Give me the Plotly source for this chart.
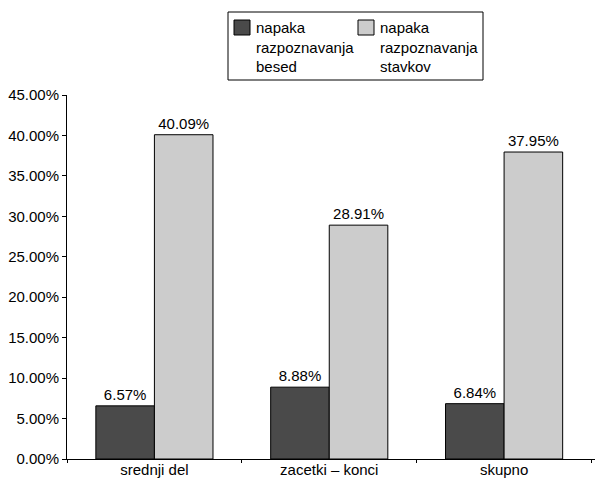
import plotly.graph_objects as go

categories = ["srednji del", "zacetki – konci", "skupno"]
word_errors = [6.57, 8.88, 6.84]
sentence_errors = [40.09, 28.91, 37.95]
series_names = ["napaka<br>razpoznavanja<br>besed", "napaka<br>razpoznavanja<br>stavkov"]
series_colors = ["#4a4a4a", "#cccccc"]
y_ticks = [0, 5, 10, 15, 20, 25, 30, 35, 40, 45]

FONT = "Liberation Sans, Arial, sans-serif"
W, H = 595, 479
ML, MR, MT, MB = 67, 0, 95, 20
PW, PH = W - ML - MR, H - MT - MB


def px_x(x):
    return (x - ML) / PW


def px_y(y):
    return 1 - (y - MT) / PH


fig = go.Figure()
for name, vals, color in zip(series_names, [word_errors, sentence_errors], series_colors):
    fig.add_trace(go.Bar(
        x=categories, y=vals, name=name,
        marker=dict(color=color, line=dict(color="#000000", width=1)),
        text=[f"{v:.2f}%" for v in vals], textposition="outside",
        textfont=dict(family=FONT, size=15, color="#000000"),
        cliponaxis=False, showlegend=False,
    ))

# Legend box with swatches and wrapped labels
shapes = [dict(type="rect", xref="paper", yref="paper",
               x0=px_x(228), x1=px_x(483), y0=px_y(80), y1=px_y(12),
               line=dict(color="#000000", width=1), fillcolor="white", layer="above")]
annotations = []
for sx, name, color in zip([234, 358], series_names, series_colors):
    shapes.append(dict(type="rect", xref="paper", yref="paper",
                       x0=px_x(sx), x1=px_x(sx + 16), y0=px_y(35), y1=px_y(20),
                       line=dict(color="#000000", width=1), fillcolor=color, layer="above"))
    annotations.append(dict(xref="paper", yref="paper", x=px_x(sx + 20), y=px_y(17),
                            xanchor="left", yanchor="top", align="left", showarrow=False,
                            text=name, font=dict(family=FONT, size=15, color="#000000")))

fig.update_layout(
    width=W, height=H,
    margin=dict(l=ML, r=MR, t=MT, b=MB),
    paper_bgcolor="white", plot_bgcolor="white",
    barmode="group", bargap=0.33, bargroupgap=0,
    font=dict(family=FONT, size=15, color="#000000"),
    showlegend=False,
    shapes=shapes, annotations=annotations,
    xaxis=dict(
        range=[-0.5, 2.52], showline=True, linecolor="#000000", linewidth=1,
        tickson="boundaries", ticks="outside", ticklen=3, tickcolor="#000000",
        showgrid=False, automargin=False, ticklabelstandoff=-3,
        tickfont=dict(family=FONT, size=15),
    ),
    yaxis=dict(
        range=[0, 45], tickvals=y_ticks, ticktext=[f"{v:.2f}%" for v in y_ticks],
        showline=True, linecolor="#000000", linewidth=1,
        ticks="outside", ticklen=4, tickcolor="#000000",
        showgrid=False, zeroline=False, automargin=False,
        tickfont=dict(family=FONT, size=15),
    ),
)

fig.write_html("out.html")
